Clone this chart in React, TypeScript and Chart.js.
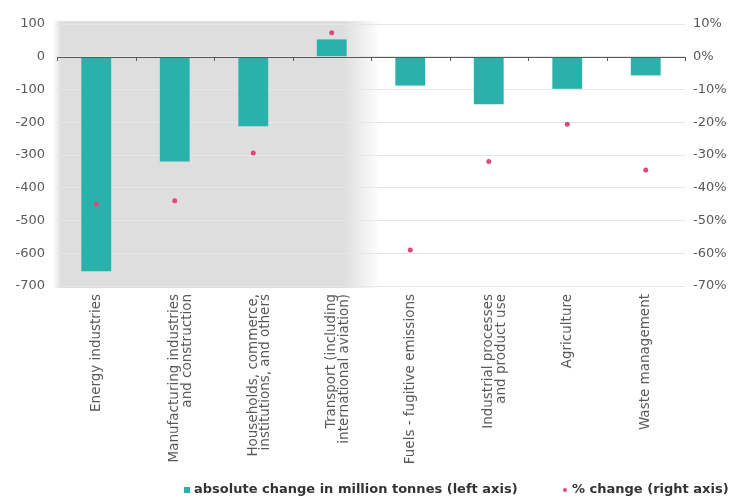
import React, { useEffect, useRef } from "react";
import { Chart, registerables } from "chart.js";

Chart.register(...registerables);

const categories: (string | string[])[] = [
  "Energy industries",
  ["Manufacturing industries", "and construction"],
  ["Households, commerce,", "institutions, and others"],
  ["Transport (including", "international aviation)"],
  "Fuels - fugitive emissions",
  ["Industrial processes", "and product use"],
  "Agriculture",
  "Waste management",
];
const absoluteChange = [-655, -320, -212, 53, -88, -145, -98, -57];
const percentChange = [-45, -44, -29.4, 7.3, -59, -32, -20.6, -34.6];
const leftTicks = [100, 0, -100, -200, -300, -400, -500, -600, -700];
const rightTicks = [10, 0, -10, -20, -30, -40, -50, -60, -70];
const barLabel = "absolute change in million tonnes (left axis)";
const dotLabel = "% change (right axis)";

const TEAL = "#2bb1ab";
const PINK = "#e0487a";
const FONT = "'DejaVu Sans', Verdana, sans-serif";

const bandPlugin = {
  id: "band",
  beforeDraw(chart: any) {
    const { ctx, chartArea, scales } = chart;
    const x = scales.x;
    const right = (x.getPixelForValue(3) + x.getPixelForValue(4)) / 2;
    const left = chartArea.left - 4;
    const top = chartArea.top - 3;
    const bottom = chartArea.bottom + 2;
    const g = ctx.createLinearGradient(left, 0, right + 10, 0);
    const w = right + 10 - left;
    g.addColorStop(0, "rgba(222,222,222,0)");
    g.addColorStop(8 / w, "rgba(222,222,222,1)");
    g.addColorStop((w - 38) / w, "rgba(222,222,222,1)");
    g.addColorStop(1, "rgba(222,222,222,0)");
    ctx.save();
    ctx.fillStyle = g;
    ctx.fillRect(left, top, w, bottom - top);
    ctx.restore();
  },
};

const axisPlugin = {
  id: "zeroAxis",
  afterDatasetsDraw(chart: any) {
    const { ctx, chartArea, scales } = chart;
    const y0 = scales.y.getPixelForValue(0);
    const x = scales.x;
    ctx.save();
    ctx.strokeStyle = "#595959";
    ctx.lineWidth = 1;
    ctx.beginPath();
    ctx.moveTo(chartArea.left, Math.round(y0) + 0.5);
    ctx.lineTo(chartArea.right, Math.round(y0) + 0.5);
    for (let i = 0; i <= categories.length; i++) {
      let px;
      if (i === 0) px = chartArea.left;
      else if (i === categories.length) px = chartArea.right;
      else px = (x.getPixelForValue(i - 1) + x.getPixelForValue(i)) / 2;
      ctx.moveTo(Math.round(px) + 0.5, Math.round(y0));
      ctx.lineTo(Math.round(px) + 0.5, Math.round(y0) + 4);
    }
    ctx.stroke();
    ctx.restore();
  },
};

const legendPlugin = {
  id: "customLegend",
  afterDraw(chart: any) {
    const { ctx } = chart;
    const yc = 490;
    ctx.save();
    ctx.font = `bold 13px ${FONT}`;
    ctx.textBaseline = "middle";
    ctx.fillStyle = TEAL;
    ctx.fillRect(184, yc - 3, 6, 6);
    ctx.fillStyle = "#333333";
    ctx.fillText(barLabel, 194, yc);
    ctx.fillStyle = PINK;
    ctx.beginPath();
    ctx.arc(565, yc, 2, 0, Math.PI * 2);
    ctx.fill();
    ctx.fillStyle = "#333333";
    ctx.fillText(dotLabel, 572, yc);
    ctx.restore();
  },
};

export default function App() {
  const ref = useRef<HTMLCanvasElement>(null);
  useEffect(() => {
    document.body.style.margin = "0";
    const chart = new Chart(ref.current!, {
      type: "bar",
      data: {
        labels: categories,
        datasets: [
          {
            type: "line",
            label: dotLabel,
            data: percentChange,
            yAxisID: "y1",
            showLine: false,
            pointRadius: 2.5,
            pointBackgroundColor: PINK,
            pointBorderWidth: 0,
            borderColor: PINK,
            order: 0,
          } as any,
          {
            type: "bar",
            label: barLabel,
            data: absoluteChange,
            yAxisID: "y",
            backgroundColor: TEAL,
            barPercentage: 0.38,
            categoryPercentage: 1,
            order: 1,
          },
        ],
      },
      options: {
        animation: false,
        responsive: false,
        layout: { padding: { top: 24, bottom: 30, left: 0, right: 0 } },
        plugins: { legend: { display: false }, tooltip: { enabled: false } },
        scales: {
          x: {
            grid: { display: false },
            border: { display: false },
            ticks: {
              minRotation: 90,
              maxRotation: 90,
              color: "#595959",
              font: { family: FONT, size: 13.5, lineHeight: 0.92 },
              padding: 0,
              autoSkip: false,
            },
            afterFit: (s: any) => {
              s.height = 181;
            },
          },
          y: {
            position: "left",
            min: -700,
            max: 100,
            afterBuildTicks: (s: any) => {
              s.ticks = leftTicks.map((v) => ({ value: v }));
            },
            grid: { color: "#e6e6e6", drawTicks: false },
            border: { display: false },
            ticks: {
              color: "#595959",
              font: { family: FONT, size: 13 },
              padding: 12,
            },
            afterFit: (s: any) => {
              s.width = 57;
            },
          },
          y1: {
            position: "right",
            min: -70,
            max: 10,
            afterBuildTicks: (s: any) => {
              s.ticks = rightTicks.map((v) => ({ value: v }));
            },
            grid: { display: false, drawTicks: false },
            border: { display: false },
            ticks: {
              color: "#595959",
              font: { family: FONT, size: 13 },
              padding: 8,
              callback: (v: any) => `${v}%`,
            },
            afterFit: (s: any) => {
              s.width = 49;
            },
          },
        },
      },
      plugins: [bandPlugin, axisPlugin, legendPlugin],
    });
    return () => chart.destroy();
  }, []);
  return <canvas ref={ref} width={734} height={497} style={{ display: "block" }} />;
}
